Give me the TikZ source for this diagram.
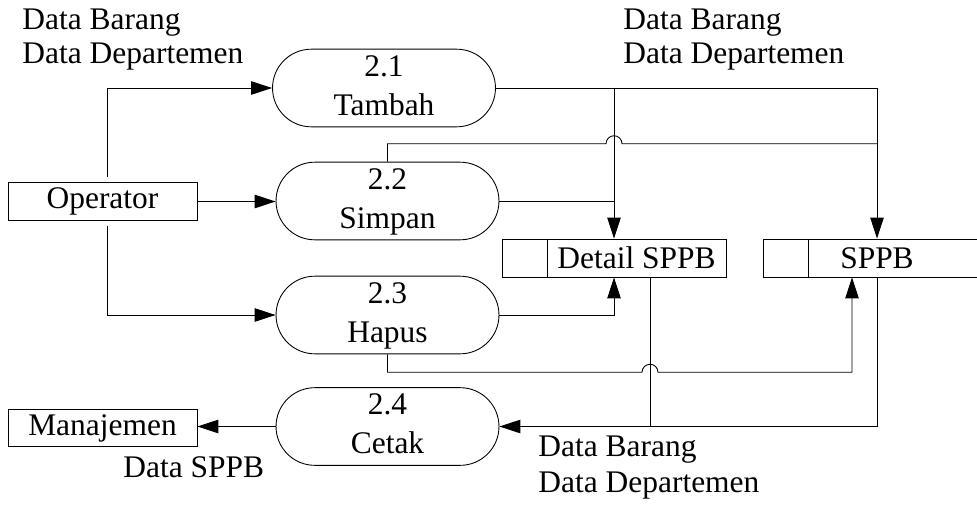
\documentclass[tikz,border=0pt]{standalone}
\usepackage{fontspec}
\setmainfont{Liberation Serif}
\usetikzlibrary{arrows.meta,shapes.misc}

\begin{document}
\begin{tikzpicture}[x=0.02cm, y=-0.02cm, line width=0.5pt,
    font=\fontsize{17.9}{22.1}\selectfont,
    flow/.style={-{Triangle[length=0.42cm,width=0.27cm]}},
    process/.style={draw, rounded rectangle, minimum width=4.46cm, minimum height=1.52cm, align=center, inner sep=0pt},
    entity/.style={draw, minimum width=3.78cm, minimum height=0.75cm, inner sep=0pt},
    store/.style={draw, minimum height=0.76cm, inner sep=0pt,
      path picture={\draw ([xshift=0.9cm]path picture bounding box.south west) -- ([xshift=0.9cm]path picture bounding box.north west);}},
    flowlabel/.style={anchor=base west, inner sep=0pt}]

  \useasboundingbox (0,0) rectangle (977,504);

  % ---------- external entities ----------
  \node[entity] (op)  at (102.5,201.5) {Operator};
  \node[entity] (mgr) at (102.5,428) {Manajemen};

  % ---------- processes ----------
  \node[process] (p21) at (384,88)      {\strut 2.1\\\strut Tambah};
  \node[process] (p22) at (387.5,201)   {\strut 2.2\\\strut Simpan};
  \node[process] (p23) at (387.5,315)   {\strut 2.3\\\strut Hapus};
  \node[process] (p24) at (387.5,426.5) {\strut 2.4\\\strut Cetak};

  % ---------- data stores ----------
  \node[store, minimum width=4.48cm] (detail) at (614,258) {\hspace*{0.9cm}Detail SPPB};
  \node[store, minimum width=4.56cm] (sppb)   at (877,258) {SPPB};

  % ---------- operator -> processes ----------
  \draw[flow] ([xshift=0.09cm,yshift=0.1cm]op.north) |- (p21);
  \draw[flow] (op.east) -- (op.east -| p22.west);
  \draw[flow] ([xshift=0.09cm,yshift=-0.1cm]op.south) |- (p23);

  % ---------- tambah / simpan -> stores ----------
  \draw[flow] (p21.east) -| (sppb.north);
  \draw[flow] (p21.east -| detail.north) -- (detail.north);
  \draw (p22.north) -- ++(0,-18) coordinate (bus)
        -- ([xshift=-0.16cm]bus -| detail.north) arc[start angle=180, end angle=0, radius=0.16cm]
        -- (bus -| sppb.north);
  \draw (p22.east) -- (p22.east -| detail.north);

  % ---------- hapus -> stores ----------
  \draw[flow] (p23.east) -| (detail.south);
  \coordinate (detout) at ([xshift=0.72cm]detail.south);
  \draw[flow] (p23.south) -- ++(0,18) coordinate (low)
        -- ([xshift=-0.16cm]low -| detout) arc[start angle=180, end angle=0, radius=0.16cm]
        -| ([xshift=-0.5cm]sppb.south);

  % ---------- stores -> cetak -> manajemen ----------
  \draw[flow] (detout) |- (p24.east);
  \draw (sppb.south) |- (detout |- p24.east);
  \draw[flow] (p24.west) -- (p24.west -| mgr.east);

  % ---------- flow labels ----------
  \node[flowlabel] (inA)  at (22,29)   {Data Barang};
  \node[flowlabel] (inB)  at (22,63)   {Data Departemen};
  \node[flowlabel] (outA) at (623,29)  {Data Barang};
  \node[flowlabel] (outB) at (623,63)  {Data Departemen};
  \node[flowlabel] (rdA)  at (538,456) {Data Barang};
  \node[flowlabel] (rdB)  at (538,492) {Data Departemen};
  \node[flowlabel] (rpt)  at (123,477) {Data SPPB};

\end{tikzpicture}
\end{document}
